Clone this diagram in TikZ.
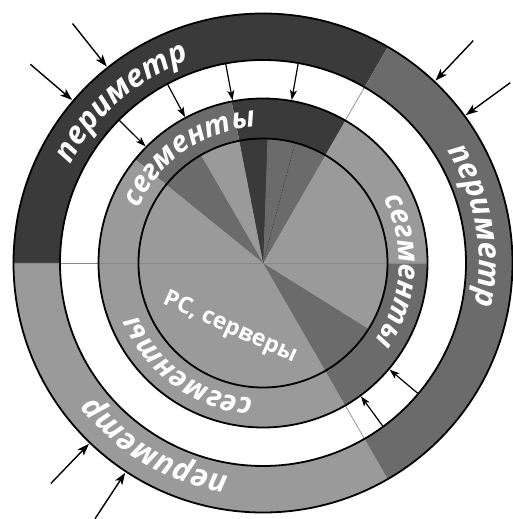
\documentclass[tikz,border=0pt]{standalone}
\usepackage{fontspec}
\setmainfont{Open Sans}
\newfontfamily\lblfont{Open Sans}
\usetikzlibrary{arrows.meta,decorations.text}
\definecolor{darkseg}{HTML}{3A3A3A}
\definecolor{midseg}{HTML}{6B6B6B}
\definecolor{lightseg}{HTML}{9A9A9A}
\definecolor{thinline}{HTML}{8A8A8A}
\newcommand\pieslice[4]{\fill[#1] (0,0) -- (#2:#4) arc[start angle=#2, end angle=#3, radius=#4] -- cycle;}
\tikzset{
  ringline/.style={draw=black, line width=1.8pt},
  outarrow/.style={line width=1.4pt, -{Stealth[length=12pt,width=8.5pt,inset=3pt]}},
  inarrow/.style={line width=1.2pt, -{Stealth[length=10pt,width=7pt,inset=2.5pt]}},
}
\newcommand\arclabel[4]{% size, center angle, radius, text
  \begin{scope}
  \lblfont\bfseries\itshape\fontsize{#1pt}{#1pt}\selectfont
  \path[font=\lblfont\bfseries\itshape\fontsize{#1pt}{#1pt}\selectfont,
     decorate, decoration={text along path, text align=center, text color=white,
     text={#4}}]
     (#2+70:#3pt) arc[start angle=#2+70, end angle=#2-70, radius=#3pt];
  \end{scope}}
\begin{document}
\begin{tikzpicture}[x=1pt,y=1pt]
\useasboundingbox (-263,-256) rectangle (249,263);
% outer ring sectors
\pieslice{darkseg}{60}{180}{249.5pt}
\pieslice{lightseg}{180}{300}{249.5pt}
\pieslice{midseg}{-60}{60}{249.5pt}
\fill[white] (0,0) circle[radius=203pt];
% segment ring sectors
\pieslice{lightseg}{0}{60}{164.5pt}
\pieslice{darkseg}{60}{101}{164.5pt}
\pieslice{midseg}{101}{141}{164.5pt}
\pieslice{lightseg}{141}{300}{164.5pt}
\pieslice{midseg}{300}{360}{164.5pt}
% inner pie
\pieslice{midseg}{300}{328}{124.5pt}
\pieslice{lightseg}{328}{420}{124.5pt}
\pieslice{midseg}{60}{88}{124.5pt}
\pieslice{darkseg}{88}{101}{124.5pt}
\pieslice{lightseg}{101}{120}{124.5pt}
\pieslice{midseg}{120}{141}{124.5pt}
\pieslice{lightseg}{141}{300}{124.5pt}
% thin lines
\coordinate (c) at (0,0);
\coordinate (hl) at (-249.5,0);
\coordinate (hr) at (164.5,0);
\draw[thinline, line width=0.8pt] (hl) -- (hr);
\draw[thinline, line width=0.7pt] (60:164.5pt) -- (60:203pt);
\draw[thinline, line width=0.7pt] (-60:164.5pt) -- (-60:203pt);
\draw[darkseg, line width=0.5pt, dash pattern=on 1.5pt off 1.5pt] (c) -- (75:124.5pt);
% circles
\draw[ringline] (c) circle[radius=249.5pt];
\draw[ringline] (c) circle[radius=203pt];
\draw[ringline] (c) circle[radius=164.5pt];
\draw[ringline] (c) circle[radius=124.5pt];
% curved labels
\arclabel{31}{131.4}{216}{периметр}
\arclabel{31}{10}{216}{периметр}
\arclabel{31}{239.5}{216}{периметр}
\arclabel{29}{124.7}{136}{сегменты}
\arclabel{29}{-3.5}{136}{сегменты}
\arclabel{29}{234}{136}{сегменты}
\node[text=white, font=\lblfont\bfseries\fontsize{23pt}{23pt}\selectfont, rotate=-24] (pc) at (-33,-65) {PC, серверы};
% arrows
\foreach \a [count=\i] in {139.5,128.5,46.6,36.1,226.1,236.7} {
  \coordinate (os\i) at (\a:306pt);
  \coordinate (oe\i) at (\a:251pt);
  \draw[outarrow] (os\i) -- (oe\i);
}
\foreach \a [count=\i] in {135.2,118.1,100.6,80,-40.1,-53.7} {
  \coordinate (is\i) at (\a:203pt);
  \coordinate (ie\i) at (\a:165.5pt);
  \draw[inarrow] (is\i) -- (ie\i);
}
\end{tikzpicture}
\end{document}
